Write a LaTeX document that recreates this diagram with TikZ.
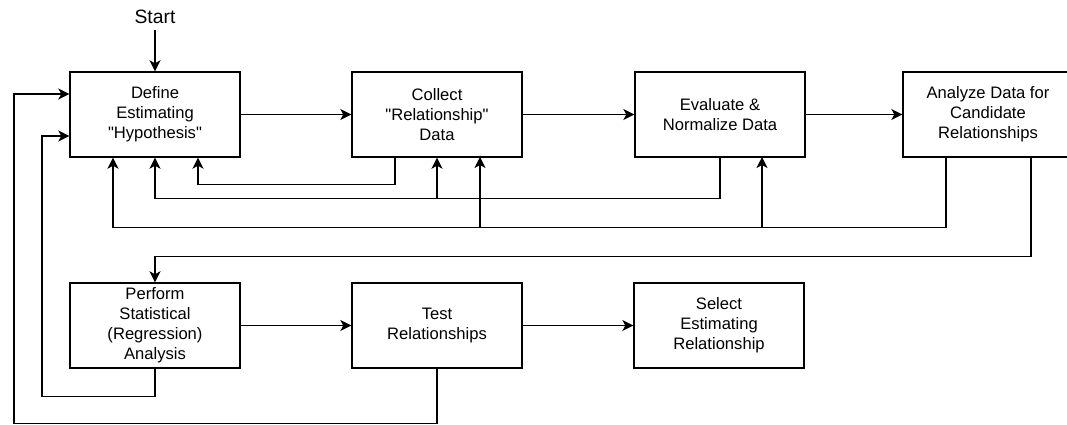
\documentclass[tikz,border=0pt]{standalone}
\usepackage{fontspec}
\setmainfont{Liberation Sans}[Ligatures=TeXOff]
\usetikzlibrary{arrows.meta}
\begin{document}
\begin{tikzpicture}[x=1pt,y=-1pt,
  stepbox/.style={draw, line width=1.4pt, minimum width=170pt, minimum height=85pt,
    inner sep=0pt, align=center, font=\fontsize{16.6}{20}\selectfont},
  arr/.style={line width=1.4pt, -{Stealth[length=11pt,width=11pt,inset=3pt]}}]
\useasboundingbox (0,0) rectangle (1067,425);
\clip (0,0) rectangle (1067,425);

% process boxes
\node[stepbox] (b1) at (155,114.5) {Define\\Estimating\\"Hypothesis"};
\node[stepbox] (b2) at (437,114.5) {Collect\\"Relationship"\\Data};
\node[stepbox] (b3) at (720,114.5) {Evaluate \&\\Normalize Data};
\node[stepbox] (b4) at (988,114.5) {Analyze Data for\\Candidate\\Relationships};
\node[stepbox] (b5) at (155,325.5) {Perform\\Statistical\\(Regression)\\Analysis};
\node[stepbox] (b6) at (437,325.5) {Test\\Relationships};
\node[stepbox] (b7) at (719,325.5) {Select\\Estimating\\Relationship};

% start marker
\node[anchor=south, inner sep=6pt, font=\fontsize{19.3}{22}\selectfont] (start) at (155,30) {Start};
\draw[arr] (start.south) -- (b1.north);

% forward flow
\draw[arr] (b1) -- (b2);
\draw[arr] (b2) -- (b3);
\draw[arr] (b3) -- (b4);
\draw[arr] (b5) -- (b6);
\draw[arr] (b6) -- (b7);

% feedback from collect
\draw[arr] ([xshift=-42pt]b2.south) -- ++(0,27) -| ([xshift=43pt]b1.south);

% feedback from evaluate
\draw[arr] (b3.south) -- ++(0,41) coordinate (e1) -| (b1.south);
\draw[arr] (e1 -| b2.south) -- (b2.south);

% feedback from analyze
\draw[arr] ([xshift=-42pt]b4.south) -- ++(0,70) coordinate (a1) -| ([xshift=-42pt]b1.south);
\draw[arr] (a1 -| 762,0) -- (762,157);
\draw[arr] (a1 -| 480,0) -- (480,157);

% analyze to regression
\draw[arr] ([xshift=43pt]b4.south) -- ++(0,99) -| (b5.north);

% loops back to hypothesis
\draw[arr] (b5.south) -- ++(0,28) -- ++(-113,0) |- ([yshift=-21.5pt]b1.west);
\draw[arr] (b6.south) -- ++(0,55) -- ++(-423,0) |- ([yshift=20.5pt]b1.west);
\end{tikzpicture}
\end{document}
